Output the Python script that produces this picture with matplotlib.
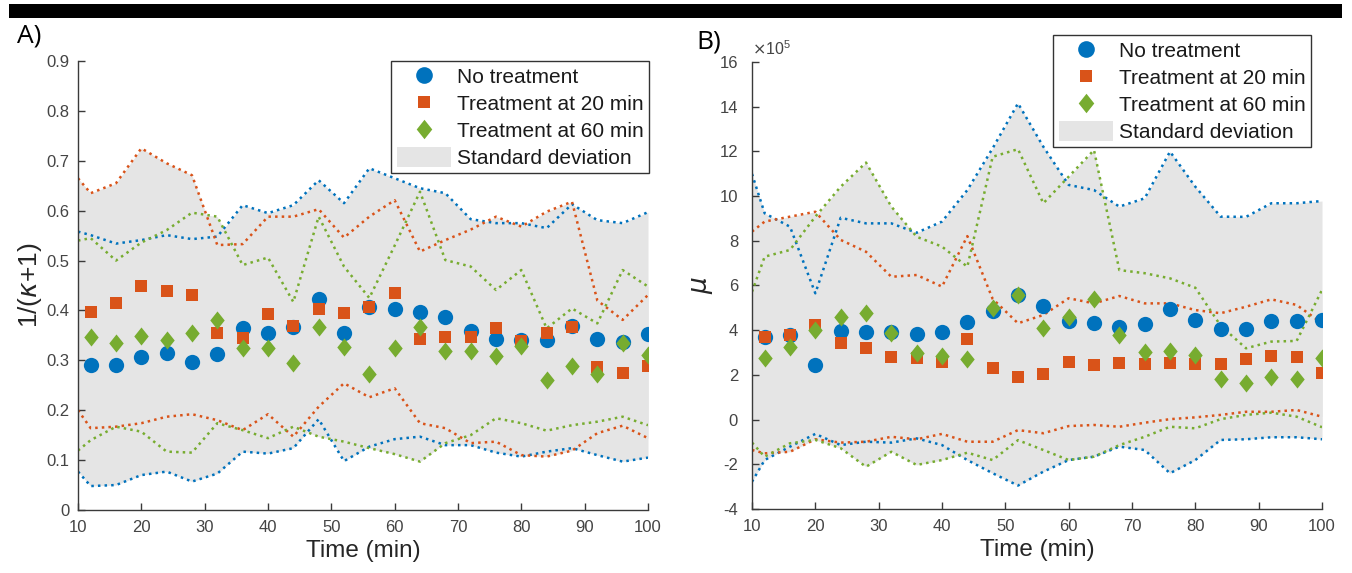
import matplotlib
matplotlib.use("Agg")
import matplotlib.pyplot as plt
from matplotlib.patches import Rectangle, Patch
from matplotlib.lines import Line2D

plt.rcParams['font.family'] = ['Liberation Sans', 'DejaVu Sans']
plt.rcParams['mathtext.fontset'] = 'dejavusans'
plt.rcParams['axes.unicode_minus'] = False

# marker times and std-band times (bands start at the axis edge)
t = [12, 16, 20, 24, 28, 32, 36, 40, 44, 48, 52, 56,
     60, 64, 68, 72, 76, 80, 84, 88, 92, 96, 100]
t_band = [10] + t

labels = ['No treatment', 'Treatment at 20 min', 'Treatment at 60 min']
colors = ['#0072BD', '#D95319', '#77AC30']

# ---- panel A: 1/(kappa+1)
a_none = [0.291, 0.291, 0.306, 0.314, 0.297, 0.313, 0.364, 0.354, 0.366, 0.422, 0.355, 0.406,
          0.402, 0.397, 0.386, 0.359, 0.343, 0.341, 0.341, 0.369, 0.343, 0.337, 0.353]
a_t20 = [0.397, 0.415, 0.449, 0.439, 0.431, 0.354, 0.344, 0.392, 0.369, 0.403, 0.395, 0.407,
         0.434, 0.343, 0.347, 0.346, 0.364, 0.339, 0.354, 0.367, 0.286, 0.274, 0.289]
a_t60 = [0.346, 0.335, 0.349, 0.341, 0.355, 0.381, 0.324, 0.324, 0.294, 0.367, 0.327, 0.273,
         0.324, 0.367, 0.319, 0.319, 0.309, 0.329, 0.261, 0.289, 0.273, 0.334, 0.311]

a_none_hi = [0.558, 0.551, 0.534, 0.541, 0.551, 0.543, 0.548, 0.611, 0.595, 0.611, 0.661, 0.615,
             0.685, 0.665, 0.645, 0.635, 0.583, 0.575, 0.575, 0.565, 0.613, 0.581, 0.575, 0.597]
a_none_lo = [0.077, 0.048, 0.050, 0.070, 0.077, 0.057, 0.073, 0.117, 0.113, 0.124, 0.182, 0.098,
             0.127, 0.142, 0.147, 0.130, 0.130, 0.115, 0.107, 0.117, 0.124, 0.110, 0.097, 0.105]
a_t20_hi = [0.665, 0.635, 0.655, 0.725, 0.695, 0.671, 0.531, 0.533, 0.588, 0.588, 0.603, 0.546,
            0.588, 0.621, 0.518, 0.541, 0.562, 0.588, 0.568, 0.598, 0.618, 0.420, 0.381, 0.431]
a_t20_lo = [0.200, 0.164, 0.167, 0.174, 0.187, 0.192, 0.180, 0.160, 0.192, 0.147, 0.207, 0.254,
            0.226, 0.244, 0.174, 0.164, 0.134, 0.137, 0.110, 0.107, 0.119, 0.154, 0.169, 0.144]
a_t60_hi = [0.540, 0.545, 0.500, 0.536, 0.561, 0.596, 0.588, 0.491, 0.506, 0.417, 0.588, 0.488,
            0.425, 0.530, 0.638, 0.501, 0.488, 0.441, 0.481, 0.364, 0.404, 0.374, 0.481, 0.448]
a_t60_lo = [0.119, 0.140, 0.167, 0.157, 0.117, 0.115, 0.174, 0.160, 0.144, 0.167, 0.147, 0.137,
            0.124, 0.112, 0.097, 0.134, 0.150, 0.184, 0.174, 0.159, 0.170, 0.177, 0.187, 0.170]

# ---- panel B: mu (x 10^5)
b_none = [3.71, 3.79, 2.44, 3.98, 3.91, 3.91, 3.82, 3.91, 4.38, 4.87, 5.57, 5.08,
          4.42, 4.31, 4.13, 4.26, 4.94, 4.46, 4.04, 4.04, 4.42, 4.42, 4.46]
b_t20 = [3.68, 3.79, 4.23, 3.44, 3.19, 2.79, 2.74, 2.59, 3.59, 2.30, 1.89, 2.03,
         2.59, 2.44, 2.55, 2.50, 2.55, 2.49, 2.50, 2.70, 2.85, 2.79, 2.07]
b_t60 = [2.74, 3.26, 4.01, 4.58, 4.78, 3.89, 2.99, 2.85, 2.70, 4.98, 5.57, 4.09,
         4.61, 5.38, 3.79, 3.04, 3.08, 2.89, 1.80, 1.65, 1.89, 1.80, 2.74]

b_none_hi = [10.99, 9.23, 8.63, 5.65, 9.03, 8.78, 8.78, 8.36, 8.86, 10.27, 12.14, 14.15,
             12.21, 10.50, 10.27, 9.53, 9.90, 11.99, 10.42, 9.08, 9.07, 9.68, 9.68, 9.78]
b_none_lo = [-2.78, -1.81, -1.21, -0.64, -1.14, -0.99, -1.03, -0.84, -1.14, -1.81, -2.40, -2.95,
             -2.33, -1.81, -1.66, -1.21, -1.36, -2.40, -1.81, -0.91, -0.88, -0.79, -0.79, -0.88]
b_t20_hi = [8.41, 8.86, 9.08, 9.30, 8.04, 7.51, 6.39, 6.47, 5.95, 8.21, 5.40, 4.31,
            4.68, 5.43, 5.20, 5.53, 5.20, 5.20, 4.90, 4.76, 5.05, 5.38, 5.13, 4.31]
b_t20_lo = [-1.36, -1.51, -1.44, -0.88, -1.03, -0.99, -0.77, -0.88, -0.64, -0.99, -0.99, -0.47,
            -0.61, -0.29, -0.24, -0.32, -0.14, 0.02, 0.10, 0.21, 0.35, 0.35, 0.43, 0.13]
b_t60_hi = [5.72, 7.29, 7.59, 9.08, 10.42, 11.50, 9.53, 8.18, 7.74, 6.84, 11.76, 12.10,
            9.68, 10.87, 12.06, 6.69, 6.55, 6.32, 5.90, 4.20, 3.19, 3.49, 3.52, 5.80]
b_t60_lo = [-1.03, -1.66, -1.06, -0.91, -1.28, -2.11, -1.44, -2.03, -1.81, -1.48, -1.81, -0.92,
            -1.36, -1.81, -1.66, -1.14, -0.77, -0.32, -0.39, 0.02, 0.21, 0.31, 0.13, -0.34]

band_gray = '#e5e5e5'
axis_col = '#3a3a3a'


def draw_panel(ax, means, his, los):
    for hi, lo in zip(his, los):
        ax.fill_between(t_band, lo, hi, color=band_gray, lw=0, zorder=1)
    for hi, lo, c in zip(his, los, colors):
        ax.plot(t_band, hi, ls=':', color=c, lw=1.8, zorder=2)
        ax.plot(t_band, lo, ls=':', color=c, lw=1.8, zorder=2)
    diamond = [(0, 1), (0.8, 0), (0, -1), (-0.8, 0)]
    ax.plot(t, means[0], 'o', color=colors[0], ms=11, mew=0, zorder=3)
    ax.plot(t, means[1], 's', color=colors[1], ms=9, mew=0, zorder=4)
    ax.plot(t, means[2], marker=diamond, ls='none', color=colors[2], ms=13, mew=0, zorder=5)

    ax.set_xlim(10, 100)
    ax.set_xticks(range(10, 101, 10))
    for s in ['top', 'right']:
        ax.spines[s].set_visible(False)
    for s in ['left', 'bottom']:
        ax.spines[s].set_color(axis_col)
        ax.spines[s].set_linewidth(1.0)
    ax.tick_params(direction='in', length=5, width=1.0, color=axis_col,
                   labelcolor='#444444', labelsize=12)
    ax.tick_params(axis='x', pad=7)
    ax.tick_params(axis='y', pad=6)
    ax.set_xlabel('Time (min)', fontsize=17.5, color='#262626', labelpad=4)


def add_legend(ax, anchor):
    handles = [
        Line2D([], [], marker='o', ls='none', color=colors[0], ms=12, mew=0),
        Line2D([], [], marker='s', ls='none', color=colors[1], ms=9, mew=0),
        Line2D([], [], marker=[(0, 1), (0.8, 0), (0, -1), (-0.8, 0)], ls='none',
               color=colors[2], ms=14, mew=0),
        Patch(facecolor=band_gray, edgecolor='none'),
    ]
    leg = fig.legend(handles, labels + ['Standard deviation'], loc='upper right',
                     bbox_to_anchor=anchor, bbox_transform=fig.transFigure,
                     fontsize=15, frameon=True, fancybox=False, framealpha=1,
                     edgecolor='#333333', handlelength=2.6, handleheight=1.05,
                     handletextpad=0.3, labelspacing=0.3, borderpad=0.25,
                     borderaxespad=0)
    leg.get_frame().set_linewidth(1.0)
    for txt in leg.get_texts():
        txt.set_color('#1a1a1a')


fig = plt.figure(figsize=(13.52, 5.73), dpi=100)
W, H = 1352, 573

axA = fig.add_axes([78 / W, 1 - 510 / H, 570 / W, 449 / H])
draw_panel(axA, [a_none, a_t20, a_t60],
           [a_none_hi, a_t20_hi, a_t60_hi], [a_none_lo, a_t20_lo, a_t60_lo])
axA.set_ylim(0, 0.9)
axA.set_yticks([0, 0.1, 0.2, 0.3, 0.4, 0.5, 0.6, 0.7, 0.8, 0.9])
axA.set_yticklabels(['0', '0.1', '0.2', '0.3', '0.4', '0.5', '0.6', '0.7', '0.8', '0.9'])
axA.set_ylabel(r'1/($\kappa$+1)', fontsize=19, color='#262626', labelpad=2)

axB = fig.add_axes([752 / W, 1 - 509 / H, 570 / W, 447 / H])
draw_panel(axB, [b_none, b_t20, b_t60],
           [b_none_hi, b_t20_hi, b_t60_hi], [b_none_lo, b_t20_lo, b_t60_lo])
axB.set_ylim(-4, 16)
axB.set_yticks(range(-4, 17, 2))
axB.tick_params(axis='y', pad=10)
axB.set_ylabel(r'$\mu$', fontsize=19, color='#262626', labelpad=3)
axB.text(0.0, 1.01, r'$\times\mathregular{10^5}$', transform=axB.transAxes,
         fontsize=11.5, color='#444444', ha='left', va='bottom')

add_legend(axA, (649 / W, 1 - 61 / H))
add_legend(axB, (1311 / W, 1 - 35 / H))

# top black bar and panel letters
fig.add_artist(Rectangle((9 / W, 1 - 18 / H), 1333 / W, 14 / H, transform=fig.transFigure,
                         color='black', lw=0))
fig.text(17 / W, 1 - 36 / H, 'A)', fontsize=19, family='Open Sans', va='center', ha='left')
fig.text(696 / W, 1 - 42 / H, 'B)', fontsize=19, family='Open Sans', va='center', ha='left')

fig.savefig('out.png', dpi=100)
